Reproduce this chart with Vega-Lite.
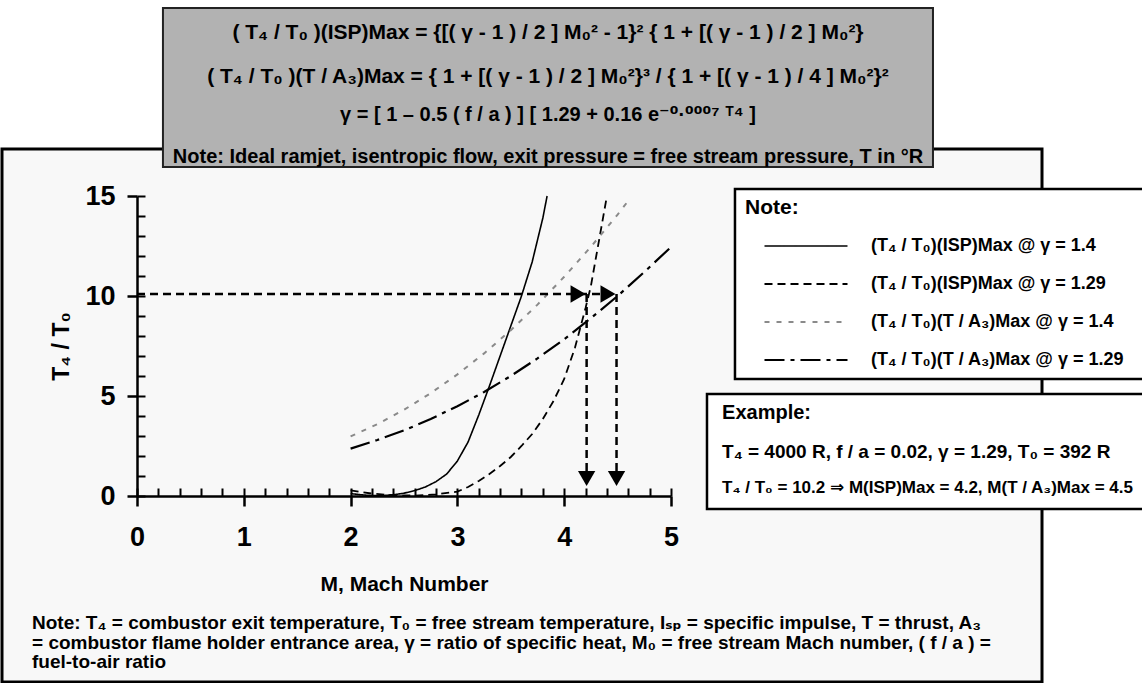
{
  "$schema": "https://vega.github.io/schema/vega-lite/v6.json",
  "width": 1040,
  "height": 533,
  "autosize": {"type": "none"},
  "padding": {"left": 2, "top": 149, "right": 100, "bottom": 1},
  "background": "white",
  "config": {
    "font": "Liberation Sans, Arial, DejaVu Sans, sans-serif",
    "view": {"stroke": "black", "strokeWidth": 3, "fill": "#f8f8f8"},
    "axis": {"grid": false, "zindex": 1, "labelFontWeight": "bold", "titleFontWeight": "bold", "labelColor": "black", "titleColor": "black", "tickColor": "black", "domainColor": "black"},
    "text": {"fontWeight": "bold", "color": "black"}
  },
  "resolve": {"axis": {"x": "independent", "y": "independent"}},
  "layer": [
    {
      "data": {"values": [{}]},
      "mark": {"type": "rect", "fill": "#b2b2b2", "stroke": "#222222", "strokeWidth": 2},
      "encoding": {
        "x": {"datum": 0.243, "type": "quantitative", "axis": null},
        "x2": {"datum": 7.453},
        "y": {"datum": 24.4, "type": "quantitative", "axis": null},
        "y2": {"datum": 16.45}
      }
    },
    {
      "data": {"values": [{}]},
      "mark": {"type": "rect", "fill": "white", "stroke": "black", "strokeWidth": 2.5},
      "encoding": {
        "x": {"datum": 5.599, "type": "quantitative", "axis": null},
        "x2": {"datum": 9.5},
        "y": {"datum": 15.35, "type": "quantitative", "axis": null},
        "y2": {"datum": 5.85}
      }
    },
    {
      "data": {"values": [{}]},
      "mark": {"type": "rect", "fill": "white", "stroke": "black", "strokeWidth": 2.5},
      "encoding": {
        "x": {"datum": 5.337, "type": "quantitative", "axis": null},
        "x2": {"datum": 9.5},
        "y": {"datum": 5.1, "type": "quantitative", "axis": null},
        "y2": {"datum": -0.65}
      }
    },
    {
      "data": {"values": [
        {"series": "(T₄ / T₀)(ISP)Max @ γ = 1.4", "M": 2.0, "T": 0.12},
        {"series": "(T₄ / T₀)(ISP)Max @ γ = 1.4", "M": 2.1, "T": 0.06},
        {"series": "(T₄ / T₀)(ISP)Max @ γ = 1.4", "M": 2.2, "T": 0.02},
        {"series": "(T₄ / T₀)(ISP)Max @ γ = 1.4", "M": 2.3, "T": 0.02},
        {"series": "(T₄ / T₀)(ISP)Max @ γ = 1.4", "M": 2.4, "T": 0.06},
        {"series": "(T₄ / T₀)(ISP)Max @ γ = 1.4", "M": 2.5, "T": 0.14},
        {"series": "(T₄ / T₀)(ISP)Max @ γ = 1.4", "M": 2.6, "T": 0.27},
        {"series": "(T₄ / T₀)(ISP)Max @ γ = 1.4", "M": 2.7, "T": 0.45},
        {"series": "(T₄ / T₀)(ISP)Max @ γ = 1.4", "M": 2.8, "T": 0.72},
        {"series": "(T₄ / T₀)(ISP)Max @ γ = 1.4", "M": 2.9, "T": 1.1},
        {"series": "(T₄ / T₀)(ISP)Max @ γ = 1.4", "M": 3.0, "T": 1.75},
        {"series": "(T₄ / T₀)(ISP)Max @ γ = 1.4", "M": 3.1, "T": 2.7},
        {"series": "(T₄ / T₀)(ISP)Max @ γ = 1.4", "M": 3.2, "T": 4.05},
        {"series": "(T₄ / T₀)(ISP)Max @ γ = 1.4", "M": 3.3, "T": 5.5},
        {"series": "(T₄ / T₀)(ISP)Max @ γ = 1.4", "M": 3.4, "T": 7.0},
        {"series": "(T₄ / T₀)(ISP)Max @ γ = 1.4", "M": 3.5, "T": 8.5},
        {"series": "(T₄ / T₀)(ISP)Max @ γ = 1.4", "M": 3.6, "T": 10.0},
        {"series": "(T₄ / T₀)(ISP)Max @ γ = 1.4", "M": 3.7, "T": 11.7},
        {"series": "(T₄ / T₀)(ISP)Max @ γ = 1.4", "M": 3.8, "T": 13.9},
        {"series": "(T₄ / T₀)(ISP)Max @ γ = 1.4", "M": 3.84, "T": 15.0},
        {"series": "(T₄ / T₀)(ISP)Max @ γ = 1.29", "M": 2.0, "T": 0.28},
        {"series": "(T₄ / T₀)(ISP)Max @ γ = 1.29", "M": 2.2, "T": 0.12},
        {"series": "(T₄ / T₀)(ISP)Max @ γ = 1.29", "M": 2.4, "T": 0.04},
        {"series": "(T₄ / T₀)(ISP)Max @ γ = 1.29", "M": 2.6, "T": 0.02},
        {"series": "(T₄ / T₀)(ISP)Max @ γ = 1.29", "M": 2.8, "T": 0.08},
        {"series": "(T₄ / T₀)(ISP)Max @ γ = 1.29", "M": 3.0, "T": 0.22},
        {"series": "(T₄ / T₀)(ISP)Max @ γ = 1.29", "M": 3.1, "T": 0.45},
        {"series": "(T₄ / T₀)(ISP)Max @ γ = 1.29", "M": 3.2, "T": 0.75},
        {"series": "(T₄ / T₀)(ISP)Max @ γ = 1.29", "M": 3.3, "T": 1.1},
        {"series": "(T₄ / T₀)(ISP)Max @ γ = 1.29", "M": 3.4, "T": 1.5},
        {"series": "(T₄ / T₀)(ISP)Max @ γ = 1.29", "M": 3.5, "T": 1.95},
        {"series": "(T₄ / T₀)(ISP)Max @ γ = 1.29", "M": 3.6, "T": 2.5},
        {"series": "(T₄ / T₀)(ISP)Max @ γ = 1.29", "M": 3.7, "T": 3.1},
        {"series": "(T₄ / T₀)(ISP)Max @ γ = 1.29", "M": 3.8, "T": 3.85},
        {"series": "(T₄ / T₀)(ISP)Max @ γ = 1.29", "M": 3.9, "T": 4.75},
        {"series": "(T₄ / T₀)(ISP)Max @ γ = 1.29", "M": 4.0, "T": 5.85},
        {"series": "(T₄ / T₀)(ISP)Max @ γ = 1.29", "M": 4.1, "T": 7.4},
        {"series": "(T₄ / T₀)(ISP)Max @ γ = 1.29", "M": 4.2, "T": 9.4},
        {"series": "(T₄ / T₀)(ISP)Max @ γ = 1.29", "M": 4.25, "T": 10.5},
        {"series": "(T₄ / T₀)(ISP)Max @ γ = 1.29", "M": 4.3, "T": 12.0},
        {"series": "(T₄ / T₀)(ISP)Max @ γ = 1.29", "M": 4.35, "T": 13.5},
        {"series": "(T₄ / T₀)(ISP)Max @ γ = 1.29", "M": 4.4, "T": 15.0},
        {"series": "(T₄ / T₀)(T / A₃)Max @ γ = 1.4", "M": 2.0, "T": 2.98},
        {"series": "(T₄ / T₀)(T / A₃)Max @ γ = 1.4", "M": 2.25, "T": 3.59},
        {"series": "(T₄ / T₀)(T / A₃)Max @ γ = 1.4", "M": 2.5, "T": 4.31},
        {"series": "(T₄ / T₀)(T / A₃)Max @ γ = 1.4", "M": 2.75, "T": 5.14},
        {"series": "(T₄ / T₀)(T / A₃)Max @ γ = 1.4", "M": 3.0, "T": 6.08},
        {"series": "(T₄ / T₀)(T / A₃)Max @ γ = 1.4", "M": 3.25, "T": 7.13},
        {"series": "(T₄ / T₀)(T / A₃)Max @ γ = 1.4", "M": 3.5, "T": 8.29},
        {"series": "(T₄ / T₀)(T / A₃)Max @ γ = 1.4", "M": 3.75, "T": 9.57},
        {"series": "(T₄ / T₀)(T / A₃)Max @ γ = 1.4", "M": 4.0, "T": 10.96},
        {"series": "(T₄ / T₀)(T / A₃)Max @ γ = 1.4", "M": 4.25, "T": 12.46},
        {"series": "(T₄ / T₀)(T / A₃)Max @ γ = 1.4", "M": 4.5, "T": 14.07},
        {"series": "(T₄ / T₀)(T / A₃)Max @ γ = 1.4", "M": 4.62, "T": 14.9},
        {"series": "(T₄ / T₀)(T / A₃)Max @ γ = 1.29", "M": 2.0, "T": 2.37},
        {"series": "(T₄ / T₀)(T / A₃)Max @ γ = 1.29", "M": 2.25, "T": 2.8},
        {"series": "(T₄ / T₀)(T / A₃)Max @ γ = 1.29", "M": 2.5, "T": 3.28},
        {"series": "(T₄ / T₀)(T / A₃)Max @ γ = 1.29", "M": 2.75, "T": 3.85},
        {"series": "(T₄ / T₀)(T / A₃)Max @ γ = 1.29", "M": 3.0, "T": 4.49},
        {"series": "(T₄ / T₀)(T / A₃)Max @ γ = 1.29", "M": 3.25, "T": 5.2},
        {"series": "(T₄ / T₀)(T / A₃)Max @ γ = 1.29", "M": 3.5, "T": 6.0},
        {"series": "(T₄ / T₀)(T / A₃)Max @ γ = 1.29", "M": 3.75, "T": 6.88},
        {"series": "(T₄ / T₀)(T / A₃)Max @ γ = 1.29", "M": 4.0, "T": 7.84},
        {"series": "(T₄ / T₀)(T / A₃)Max @ γ = 1.29", "M": 4.25, "T": 8.89},
        {"series": "(T₄ / T₀)(T / A₃)Max @ γ = 1.29", "M": 4.5, "T": 10.0},
        {"series": "(T₄ / T₀)(T / A₃)Max @ γ = 1.29", "M": 4.75, "T": 11.2},
        {"series": "(T₄ / T₀)(T / A₃)Max @ γ = 1.29", "M": 5.0, "T": 12.45}
      ]},
      "mark": {"type": "line", "strokeCap": "butt"},
      "encoding": {
        "x": {"field": "M", "type": "quantitative",
          "scale": {"domain": [0, 5], "range": [135, 669], "nice": false, "zero": false},
          "axis": {"orient": "bottom", "offset": -186, "values": [0,0.2,0.4,0.6,0.8,1,1.2,1.4,1.6,1.8,2,2.2,2.4,2.6,2.8,3,3.2,3.4,3.6,3.8,4,4.2,4.4,4.6,4.8,5],
            "tickSize": -8, "tickWidth": 2, "labels": false, "title": null, "domainWidth": 2.5}},
        "y": {"field": "T", "type": "quantitative",
          "scale": {"domain": [0, 15], "range": [347, 47], "nice": false, "zero": false},
          "axis": {"orient": "left", "offset": -135, "values": [0,1,2,3,4,5,6,7,8,9,10,11,12,13,14,15],
            "tickSize": -8, "tickWidth": 2, "labels": false, "title": null, "domainWidth": 2.5}},
        "color": {"field": "series", "type": "nominal",
          "scale": {"domain": ["(T₄ / T₀)(ISP)Max @ γ = 1.4", "(T₄ / T₀)(ISP)Max @ γ = 1.29", "(T₄ / T₀)(T / A₃)Max @ γ = 1.4", "(T₄ / T₀)(T / A₃)Max @ γ = 1.29"],
            "range": ["black", "black", "#8a8a8a", "black"]},
          "legend": {"orient": "none", "legendX": 743, "legendY": 48, "padding": 0,
            "title": "Note:", "titleFontSize": 21, "titleFontWeight": "bold", "titleColor": "black", "titlePadding": 13,
            "labelFontSize": 18, "labelFontWeight": "bold", "labelColor": "black", "labelLimit": 400,
            "symbolType": "stroke", "symbolSize": 6889, "clipHeight": 30, "rowPadding": 8,
            "symbolOffset": 18, "labelOffset": 22}},
        "strokeDash": {"field": "series", "type": "nominal",
          "scale": {"domain": ["(T₄ / T₀)(ISP)Max @ γ = 1.4", "(T₄ / T₀)(ISP)Max @ γ = 1.29", "(T₄ / T₀)(T / A₃)Max @ γ = 1.4", "(T₄ / T₀)(T / A₃)Max @ γ = 1.29"],
            "range": [[1, 0], [8, 5], [5, 7], [20, 6, 4, 6]]}},
        "strokeWidth": {"field": "series", "type": "nominal",
          "scale": {"domain": ["(T₄ / T₀)(ISP)Max @ γ = 1.4", "(T₄ / T₀)(ISP)Max @ γ = 1.29", "(T₄ / T₀)(T / A₃)Max @ γ = 1.4", "(T₄ / T₀)(T / A₃)Max @ γ = 1.29"],
            "range": [1.6, 2.2, 4, 4]}}
      }
    },
    {
      "data": {"values": [
        {"M1": 0, "T1": 10.1, "M2": 4.41, "T2": 10.1},
        {"M1": 4.21, "T1": 10.1, "M2": 4.21, "T2": 1.0},
        {"M1": 4.49, "T1": 10.1, "M2": 4.49, "T2": 1.0}
      ]},
      "mark": {"type": "rule", "color": "black", "strokeWidth": 2.5, "strokeDash": [8, 5]},
      "encoding": {
        "x": {"field": "M1", "type": "quantitative",
          "axis": {"orient": "bottom", "offset": -186, "values": [0, 1, 2, 3, 4, 5], "tickSize": 10, "tickWidth": 2.5,
            "domain": false, "labelFontSize": 27, "labelPadding": 18, "labelFlush": false,
            "title": "M, Mach Number", "titleFontSize": 21, "titlePadding": 23}},
        "x2": {"field": "M2"},
        "y": {"field": "T1", "type": "quantitative",
          "axis": {"orient": "left", "offset": -135, "values": [0, 5, 10, 15], "tickSize": 10, "tickWidth": 2.5,
            "domain": false, "labelFontSize": 27, "labelPadding": 12,
            "title": "T₄ / T₀", "titleFontSize": 23, "titlePadding": 11}},
        "y2": {"field": "T2"}
      }
    },
    {
      "data": {"values": [
        {"M": 4.13, "T": 10.1, "dir": "right"},
        {"M": 4.41, "T": 10.1, "dir": "right"},
        {"M": 4.21, "T": 0.88, "dir": "down"},
        {"M": 4.49, "T": 0.88, "dir": "down"}
      ]},
      "mark": {"type": "point", "filled": true, "color": "black", "opacity": 1, "size": 300},
      "encoding": {
        "x": {"field": "M", "type": "quantitative", "axis": null},
        "y": {"field": "T", "type": "quantitative", "axis": null},
        "shape": {"field": "dir", "type": "nominal", "scale": {"domain": ["right", "down"], "range": ["triangle-right", "triangle-down"]}, "legend": null}
      }
    },
    {
      "data": {"values": [{}]},
      "mark": {"type": "text", "align": "center", "baseline": "middle", "fontSize": 21, "text": "( T₄ / T₀ )(ISP)Max = {[( γ - 1 ) / 2 ] M₀² - 1}²  { 1 + [( γ - 1 ) / 2 ] M₀²}"},
      "encoding": {"x": {"datum": 3.848, "type": "quantitative", "axis": null}, "y": {"datum": 23.15, "type": "quantitative", "axis": null}}
    },
    {
      "data": {"values": [{}]},
      "mark": {"type": "text", "align": "center", "baseline": "middle", "fontSize": 21, "text": "( T₄ / T₀ )(T / A₃)Max = { 1 + [( γ - 1 ) / 2 ] M₀²}³ / { 1 + [( γ - 1 ) / 4 ] M₀²}²"},
      "encoding": {"x": {"datum": 3.848, "type": "quantitative", "axis": null}, "y": {"datum": 20.95, "type": "quantitative", "axis": null}}
    },
    {
      "data": {"values": [{}]},
      "mark": {"type": "text", "align": "center", "baseline": "middle", "fontSize": 20, "text": "γ = [ 1 – 0.5 ( f / a ) ] [ 1.29 + 0.16 e⁻⁰·⁰⁰⁰⁷ ᵀ⁴ ]"},
      "encoding": {"x": {"datum": 3.848, "type": "quantitative", "axis": null}, "y": {"datum": 19.05, "type": "quantitative", "axis": null}}
    },
    {
      "data": {"values": [{}]},
      "mark": {"type": "text", "align": "center", "baseline": "middle", "fontSize": 20, "text": "Note: Ideal ramjet, isentropic flow, exit pressure = free stream pressure, T in °R"},
      "encoding": {"x": {"datum": 3.848, "type": "quantitative", "axis": null}, "y": {"datum": 16.95, "type": "quantitative", "axis": null}}
    },
    {
      "data": {"values": [{}]},
      "mark": {"type": "text", "align": "left", "baseline": "middle", "fontSize": 20, "text": "Example:"},
      "encoding": {"x": {"datum": 5.478, "type": "quantitative", "axis": null}, "y": {"datum": 4.15, "type": "quantitative", "axis": null}}
    },
    {
      "data": {"values": [{}]},
      "mark": {"type": "text", "align": "left", "baseline": "middle", "fontSize": 19, "text": "T₄ = 4000 R, f / a = 0.02, γ = 1.29, T₀ = 392 R"},
      "encoding": {"x": {"datum": 5.478, "type": "quantitative", "axis": null}, "y": {"datum": 2.2, "type": "quantitative", "axis": null}}
    },
    {
      "data": {"values": [{}]},
      "mark": {"type": "text", "align": "left", "baseline": "middle", "fontSize": 17, "text": "T₄ / T₀ = 10.2 ⇒ M(ISP)Max = 4.2, M(T / A₃)Max = 4.5"},
      "encoding": {"x": {"datum": 5.478, "type": "quantitative", "axis": null}, "y": {"datum": 0.4, "type": "quantitative", "axis": null}}
    },
    {
      "data": {"values": [{}]},
      "mark": {"type": "text", "align": "left", "baseline": "middle", "fontSize": 19, "text": "Note: T₄ = combustor exit temperature, T₀ = free stream temperature, Iₛₚ = specific impulse, T = thrust, A₃"},
      "encoding": {"x": {"datum": -0.983, "type": "quantitative", "axis": null}, "y": {"datum": -6.35, "type": "quantitative", "axis": null}}
    },
    {
      "data": {"values": [{}]},
      "mark": {"type": "text", "align": "left", "baseline": "middle", "fontSize": 19, "text": "= combustor flame holder entrance area, γ = ratio of specific heat, M₀ = free stream Mach number, ( f / a ) ="},
      "encoding": {"x": {"datum": -0.983, "type": "quantitative", "axis": null}, "y": {"datum": -7.35, "type": "quantitative", "axis": null}}
    },
    {
      "data": {"values": [{}]},
      "mark": {"type": "text", "align": "left", "baseline": "middle", "fontSize": 19, "text": "fuel-to-air ratio"},
      "encoding": {"x": {"datum": -0.983, "type": "quantitative", "axis": null}, "y": {"datum": -8.3, "type": "quantitative", "axis": null}}
    }
  ]
}
